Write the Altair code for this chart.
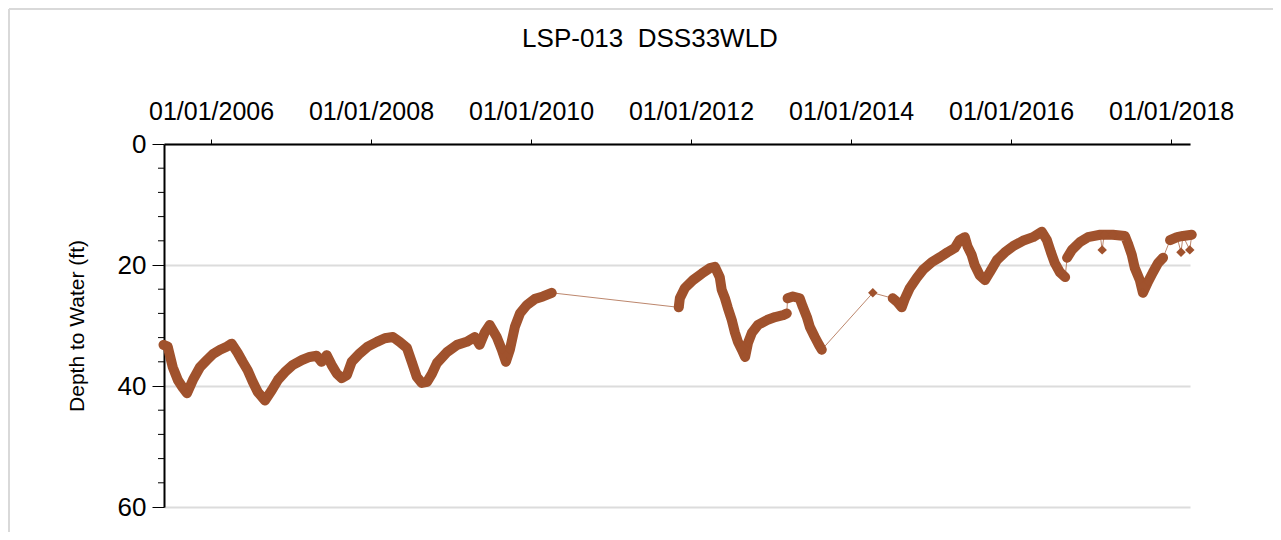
import altair as alt
import pandas as pd

# ---- data ----
dates = [
    "2005-05-29", "2005-06-17", "2005-07-10", "2005-08-02", "2005-08-25", "2005-09-13",
    "2005-10-10", "2005-11-11", "2005-12-13", "2006-01-10", "2006-02-11", "2006-03-13",
    "2006-04-05", "2006-05-02", "2006-05-25", "2006-06-17", "2006-07-10", "2006-08-02",
    "2006-09-04", "2006-10-05", "2006-11-02", "2006-12-04", "2007-01-10", "2007-02-20",
    "2007-03-27", "2007-04-28", "2007-05-20", "2007-06-13", "2007-07-05", "2007-07-28",
    "2007-08-20", "2007-09-13", "2007-10-05", "2007-11-11", "2007-12-17", "2008-01-28",
    "2008-03-04", "2008-04-10", "2008-05-11", "2008-06-13", "2008-07-05", "2008-07-28",
    "2008-08-20", "2008-09-13", "2008-10-05", "2008-10-28", "2008-12-13", "2009-01-28",
    "2009-03-13", "2009-04-19", "2009-05-11", "2009-06-04", "2009-06-26", "2009-07-28",
    "2009-08-20", "2009-09-08", "2009-09-26", "2009-10-19", "2009-11-11", "2009-12-13",
    "2010-01-19", "2010-02-24", "2010-04-05",
    "2011-11-06", "2011-11-11", "2011-12-04", "2012-01-10", "2012-02-20", "2012-03-27",
    "2012-04-19", "2012-05-11", "2012-05-20", "2012-06-04", "2012-06-17", "2012-07-05",
    "2012-07-19", "2012-08-02", "2012-08-20", "2012-09-04", "2012-09-17", "2012-10-05",
    "2012-11-02", "2012-12-13", "2013-01-19", "2013-02-24", "2013-03-13",
    "2013-03-17", "2013-04-10", "2013-05-11", "2013-05-25", "2013-06-13", "2013-06-26",
    "2013-07-19", "2013-08-07", "2013-08-20",
    "2014-04-10",
    "2014-07-10", "2014-08-02", "2014-08-20", "2014-09-04", "2014-09-26", "2014-10-28",
    "2014-11-25", "2015-01-05", "2015-02-11", "2015-03-17", "2015-04-19", "2015-05-11",
    "2015-06-04", "2015-06-17", "2015-07-05", "2015-07-19", "2015-08-11", "2015-09-04",
    "2015-09-26", "2015-10-28", "2015-12-04", "2016-01-10", "2016-02-24", "2016-04-10",
    "2016-05-20", "2016-06-13", "2016-07-01", "2016-07-19", "2016-08-11", "2016-09-04",
    "2016-09-13", "2016-10-05", "2016-11-11", "2016-12-17", "2017-02-11", "2017-02-20",
    "2017-03-01", "2017-04-10", "2017-06-04", "2017-06-17", "2017-07-05", "2017-07-19",
    "2017-08-11", "2017-08-25", "2017-09-17", "2017-10-10", "2017-11-02", "2017-11-25",
    "2017-12-27", "2018-01-28", "2018-02-15", "2018-02-24", "2018-03-27", "2018-04-05",
]
depths = [
    33.2, 33.5, 36.9, 39.0, 40.3, 41.2,
    39.0, 36.9, 35.7, 34.7, 34.0, 33.5,
    33.0, 34.5, 36.0, 37.4, 39.3, 41.0,
    42.4, 40.7, 39.0, 37.7, 36.5, 35.7,
    35.2, 35.0, 36.0, 34.9, 36.5, 37.9,
    38.7, 38.2, 36.0, 34.6, 33.5, 32.7,
    32.1, 31.9, 32.7, 33.7, 36.0, 38.5,
    39.5, 39.3, 38.0, 36.2, 34.4, 33.2,
    32.7, 31.9, 33.2, 31.1, 29.9, 31.9,
    34.0, 36.0, 34.0, 30.2, 28.0, 26.6,
    25.6, 25.2, 24.6,
    27.0, 25.5, 23.8, 22.5, 21.4, 20.5,
    20.3, 22.0, 24.1, 25.5, 27.1, 29.1,
    31.1, 32.7, 34.0, 35.2, 32.9, 31.2,
    29.9, 29.1, 28.6, 28.3, 28.0,
    25.5, 25.2, 25.5, 26.9, 28.6, 30.2,
    31.9, 33.2, 34.0,
    24.6,
    25.5, 26.2, 27.0, 25.5, 23.8, 22.1,
    20.8, 19.5, 18.7, 17.9, 17.2, 15.9,
    15.4, 17.0, 18.3, 20.0, 21.7, 22.5,
    21.2, 19.2, 17.9, 16.9, 16.0, 15.4,
    14.5, 15.9, 17.9, 19.7, 21.2, 22.0,
    18.8, 17.5, 16.2, 15.4, 15.0, 17.5,
    15.0, 15.0, 15.2, 16.4, 18.3, 20.5,
    22.5, 24.6, 22.8, 21.2, 19.7, 18.8,
    15.9, 15.4, 17.9, 15.2, 17.5, 15.0,
]
segments = (
    ["A"] * 63
    + ["B1"] * 23
    + ["B2"] * 9
    + ["iso"]
    + ["C"] * 30
    + ["D"] * 5 + ["iso"] + ["D"] * 12
    + ["E"] * 2 + ["iso"] + ["E"] + ["iso"] + ["E"]
)

x_tick_years = [2006, 2008, 2010, 2012, 2014, 2016, 2018]
y_major = [0, 20, 40, 60]
y_minor = [4, 8, 12, 16, 24, 28, 32, 36, 44, 48, 52, 56]

df = pd.DataFrame({"date": dates, "depth": depths, "seg": segments})

COLOR = "#A0522D"
FONT = "Liberation Sans"

x_scale = alt.Scale(
    type="utc",
    domain=[alt.DateTime(year=2005, month=5, date=31, utc=True),
            alt.DateTime(year=2018, month=3, date=28, utc=True)],
)
x_axis = alt.Axis(
    orient="top",
    values=[alt.DateTime(year=y, month=1, date=1, utc=True) for y in x_tick_years],
    labelExpr="utcFormat(datum.value, '%m/%d/%Y')",
    labelFontSize=25, labelColor="black", labelFont=FONT,
    tickSize=5, tickColor="black", tickWidth=1,
    domainColor="black", domainWidth=2,
    grid=False, title=None, labelPadding=15,
    labelFlush=False, labelOverlap=False,
)
y_scale = alt.Scale(domain=[0, 60], reverse=True, nice=False)
y_axis = alt.Axis(
    values=y_major, tickSize=12, tickColor="black", tickWidth=1,
    labelFontSize=26, labelColor="black", labelFont=FONT, labelPadding=6,
    title="Depth to Water (ft)", titleFontSize=21, titleFontWeight="normal",
    titleFont=FONT, titleColor="black", titlePadding=30,
    grid=True, gridColor="#dcdcdc", gridWidth=2,
    domainColor="black", domainWidth=2,
)


def X(field):
    return alt.X(field, scale=x_scale, axis=x_axis)


def Y(field):
    return alt.Y(field, scale=y_scale, axis=y_axis)


base = alt.Chart(df)

thin = base.mark_line(color=COLOR, strokeWidth=1, opacity=0.7).encode(
    x=X("date:T"), y=Y("depth:Q"), order="date:T"
)
thick = base.transform_filter("datum.seg != 'iso'").mark_line(
    color=COLOR, strokeWidth=10, strokeCap="round", strokeJoin="round"
).encode(x=X("date:T"), y=Y("depth:Q"), detail="seg:N")
pts = base.mark_point(shape="diamond", filled=True, size=90, color=COLOR, opacity=1).encode(
    x=X("date:T"), y=Y("depth:Q")
)

minor = alt.Chart(pd.DataFrame({"v": y_minor})).mark_rule(
    color="black", strokeWidth=1
).encode(y=Y("v:Q"), x=alt.value(-6), x2=alt.value(0))

one = alt.Data(values=[{"a": 1}])
frame_top = alt.Chart(one).mark_rule(color="#d9d9d9", strokeWidth=2).encode(
    x=alt.value(-155), x2=alt.value(1117), y=alt.value(-135)
)
frame_left = alt.Chart(one).mark_rule(color="#d9d9d9", strokeWidth=2).encode(
    x=alt.value(-155), y=alt.value(-135), y2=alt.value(396)
)

chart = alt.layer(frame_top, frame_left, minor, thin, thick, pts).properties(
    width=1026,
    height=363,
    autosize=alt.AutoSizeParams(type="none"),
    padding={"left": 156, "top": 136, "right": 83, "bottom": 25},
    title=alt.Title(
        "LSP-013\u00a0 DSS33WLD", fontSize=26, font=FONT, fontWeight="normal",
        color="black", offset=-44, anchor="middle", dx=-27,
    ),
).configure(font=FONT).configure_view(stroke=None)

chart.save("out.html", embed_options={"renderer": "svg", "actions": False})
